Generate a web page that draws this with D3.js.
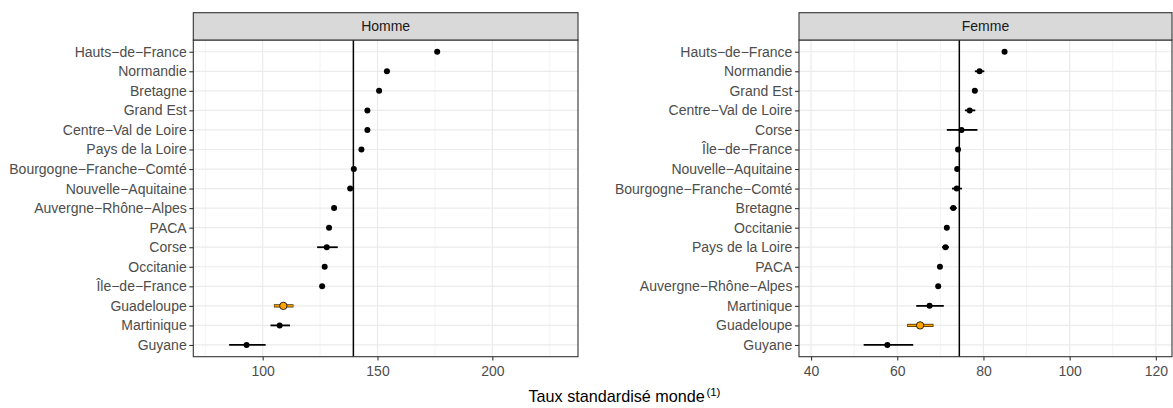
<!DOCTYPE html>
<html><head><meta charset="utf-8">
<script src="https://cdn.jsdelivr.net/npm/d3@7"></script>
<style>body{margin:0;background:#fff}svg{display:block;font-family:"Liberation Sans",Arial,sans-serif}</style>
</head><body><div id="chart"></div>
<script>
const homRegions = ["Hauts−de−France","Normandie","Bretagne","Grand Est","Centre−Val de Loire","Pays de la Loire","Bourgogne−Franche−Comté","Nouvelle−Aquitaine","Auvergne−Rhône−Alpes","PACA","Corse","Occitanie","Île−de−France","Guadeloupe","Martinique","Guyane"];
const homValues = [176.0,154.1,150.7,145.6,145.6,143.0,139.7,138.1,131.1,128.9,127.9,127.0,125.9,109.0,107.4,93.0];
const homLow    = [175.3,153.0,149.7,144.8,144.6,142.0,138.9,137.4,130.4,128.2,123.7,126.3,125.4,104.9,103.4,85.4];
const homHigh   = [176.7,155.2,151.7,146.4,146.6,144.0,140.5,138.8,131.8,129.6,132.7,127.7,126.4,113.4,111.9,101.3];
const homRef = 139.5;
const homTicks = [100,150,200];
const homMinor = [75,125,175,225];

const femRegions = ["Hauts−de−France","Normandie","Grand Est","Centre−Val de Loire","Corse","Île−de−France","Nouvelle−Aquitaine","Bourgogne−Franche−Comté","Bretagne","Occitanie","Pays de la Loire","PACA","Auvergne−Rhône−Alpes","Martinique","Guadeloupe","Guyane"];
const femValues = [84.9,79.1,78.0,76.8,74.9,74.1,73.9,73.8,73.0,71.5,71.2,69.9,69.5,67.5,65.3,57.7];
const femLow    = [84.4,78.0,77.4,75.7,71.5,73.7,73.4,72.7,72.2,71.0,70.4,69.5,69.1,64.4,62.3,52.2];
const femHigh   = [85.4,80.2,78.6,78.1,78.6,74.5,74.4,75.0,73.8,72.0,72.0,70.3,69.9,70.8,68.4,63.7];
const femRef = 74.4;
const femTicks = [40,60,80,100,120];
const femMinor = [50,70,90,110];

const highlight = "Guadeloupe";
const W = 1173, H = 408;
const svg = d3.select("#chart").append("svg").attr("width", W).attr("height", H);

const panelTop = 40, panelBottom = 356.7, stripTop = 12.7;
const FS = 14;

function panel(opt) {
  const {x0, x1, domain, regions, values, low, high, ref, ticks, minor, title} = opt;
  const x = d3.scaleLinear().domain(domain).range([x0, x1]);
  const y = d3.scalePoint().domain(regions).range([panelTop, panelBottom]).padding(0.6);
  const g = svg.append("g");
  g.selectAll(".minor").data(minor).join("line")
    .attr("x1", d => x(d)).attr("x2", d => x(d)).attr("y1", panelTop).attr("y2", panelBottom)
    .attr("stroke", "#EBEBEB").attr("stroke-width", 0.6);
  g.selectAll(".majx").data(ticks).join("line")
    .attr("x1", d => x(d)).attr("x2", d => x(d)).attr("y1", panelTop).attr("y2", panelBottom)
    .attr("stroke", "#EBEBEB").attr("stroke-width", 1.2);
  g.selectAll(".majy").data(regions).join("line")
    .attr("x1", x0).attr("x2", x1).attr("y1", d => y(d)).attr("y2", d => y(d))
    .attr("stroke", "#EBEBEB").attr("stroke-width", 1.2);
  g.append("line").attr("x1", x(ref)).attr("x2", x(ref)).attr("y1", panelTop).attr("y2", panelBottom)
    .attr("stroke", "#000").attr("stroke-width", 1.5);
  regions.forEach((r, i) => {
    const hl = r === highlight;
    if (hl) {
      g.append("line").attr("x1", x(low[i])).attr("x2", x(high[i])).attr("y1", y(r)).attr("y2", y(r))
        .attr("stroke", "#3a2a00").attr("stroke-width", 3.2);
      g.append("line").attr("x1", x(low[i]) + 0.6).attr("x2", x(high[i]) - 0.6).attr("y1", y(r)).attr("y2", y(r))
        .attr("stroke", "#FFA500").attr("stroke-width", 1.6);
    } else {
      g.append("line").attr("x1", x(low[i])).attr("x2", x(high[i])).attr("y1", y(r)).attr("y2", y(r))
        .attr("stroke", "#000").attr("stroke-width", 1.8);
    }
  });
  regions.forEach((r, i) => {
    const hl = r === highlight;
    g.append("circle").attr("cx", x(values[i])).attr("cy", y(r))
      .attr("r", hl ? 3.7 : 3)
      .attr("fill", hl ? "#FFA500" : "#000")
      .attr("stroke", "#000").attr("stroke-width", hl ? 0.8 : 0);
  });
  g.append("rect").attr("x", x0).attr("y", panelTop).attr("width", x1 - x0).attr("height", panelBottom - panelTop)
    .attr("fill", "none").attr("stroke", "#333333").attr("stroke-width", 1.1);
  g.append("rect").attr("x", x0).attr("y", stripTop).attr("width", x1 - x0).attr("height", panelTop - stripTop)
    .attr("fill", "#D9D9D9").attr("stroke", "#333333").attr("stroke-width", 1.1);
  g.append("text").attr("x", (x0 + x1) / 2).attr("y", (stripTop + panelTop) / 2).attr("dy", "0.35em")
    .attr("text-anchor", "middle").attr("font-size", FS).attr("fill", "#1A1A1A").text(title);
  const xa = svg.append("g").attr("transform", `translate(0,${panelBottom})`)
    .call(d3.axisBottom(x).tickValues(ticks).tickSize(3.7).tickPadding(5.3));
  xa.select(".domain").remove();
  xa.selectAll("line").attr("stroke", "#333333").attr("stroke-width", 1.1);
  xa.selectAll("text").attr("font-size", FS).attr("fill", "#4D4D4D").attr("font-family", "Liberation Sans, Arial, sans-serif");
  const ya = svg.append("g").attr("transform", `translate(${x0},0)`)
    .call(d3.axisLeft(y).tickSize(4).tickPadding(2.6));
  ya.select(".domain").remove();
  ya.selectAll("line").attr("stroke", "#333333").attr("stroke-width", 1.1);
  ya.selectAll("text").attr("font-size", FS).attr("fill", "#4D4D4D").attr("font-family", "Liberation Sans, Arial, sans-serif");
}

panel({x0: 193.3, x1: 578, domain: [69.8, 237.3], regions: homRegions, values: homValues, low: homLow, high: homHigh, ref: homRef, ticks: homTicks, minor: homMinor, title: "Homme"});
panel({x0: 799, x1: 1172, domain: [37.2, 123.75], regions: femRegions, values: femValues, low: femLow, high: femHigh, ref: femRef, ticks: femTicks, minor: femMinor, title: "Femme"});

const t = svg.append("text").attr("x", 528.5).attr("y", 402).attr("font-size", 16.2).attr("fill", "#000");
t.append("tspan").text("Taux standardisé monde");
t.append("tspan").attr("font-size", 11.5).attr("dx", 1.5).attr("dy", -6.5).text("(1)");
</script></body></html>
